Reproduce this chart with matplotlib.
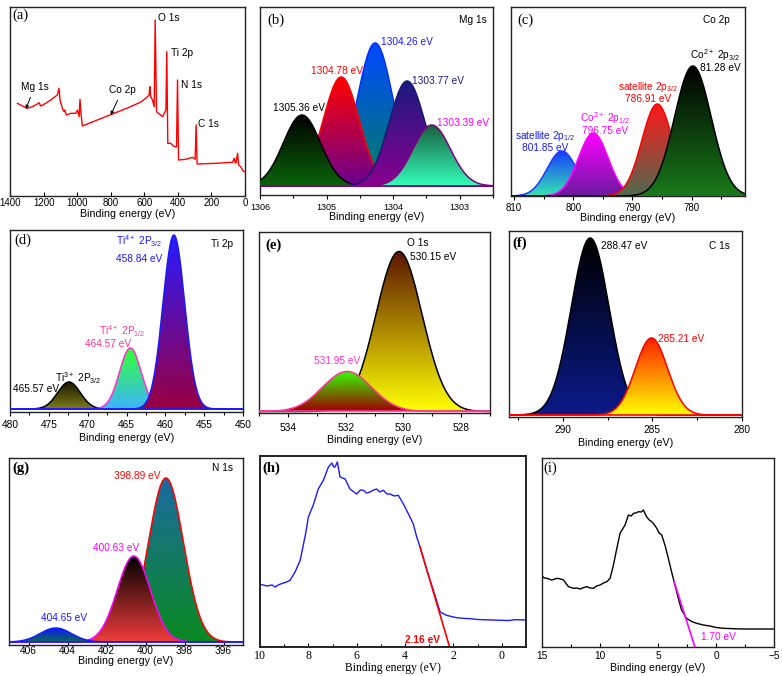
import numpy as np
import matplotlib
matplotlib.use("Agg")
import matplotlib.pyplot as plt
from matplotlib.patches import Polygon
from matplotlib.colors import LinearSegmentedColormap
from matplotlib.ticker import MultipleLocator

plt.rcParams['font.family'] = 'Liberation Sans'
SERIF = 'Liberation Serif'

# ── (a) survey spectrum ───────────────────────────────────────────────────────
survey_be = [1356, 1326, 1297, 1267, 1237, 1227, 1217, 1187, 1157, 1132, 1118, 1108,
             1102, 1088, 1078, 1074, 1064, 1038, 1008, 998, 988, 983, 977, 969, 880,
             790, 700, 620, 591, 571, 567, 562, 551, 541, 535, 527, 491, 481, 471,
             466, 460, 442, 422, 408, 402, 396, 352, 313, 297, 291, 285, 173, 74,
             64, 58, 54, 44, 38, 25, 15, 5]
survey_int = [92.7, 90, 87.7, 89.3, 92, 93.3, 90, 92.7, 96, 99.3, 101, 107.7,
              96, 87.7, 84.3, 86, 81, 82.7, 82.7, 86, 79.3, 96.7, 82.7, 70, 76,
              82, 88, 94, 97.7, 101, 109.3, 99.3, 96, 89.3, 176, 84.3, 79.3, 82.7, 86,
              144.3, 52.7, 52.7, 49.3, 49.3, 116, 36, 36.7, 38.7, 36.7, 71, 32, 32.7, 33.7,
              37.7, 33, 33, 42.7, 31, 29.3, 26, 24.3]

# ── fitted peaks: centre (eV), height (a.u.), sigma (eV) ─────────────────────
mg_center = [1304.27, 1304.78, 1305.37, 1303.79, 1303.42]
mg_height = [143, 109, 71, 105, 61]
mg_sigma  = [0.27, 0.27, 0.28, 0.27, 0.28]

co_center = [801.9, 796.6, 785.8, 779.8]
co_height = [45, 63, 92, 130]
co_sigma  = [2.5, 2.5, 2.6, 3.1]

ti_center = [472.4, 464.5, 458.9]
ti_height = [27, 61, 174]
ti_sigma  = [1.45, 1.4, 1.4]

o_center = [530.15, 531.95]
o_height = [160, 40]
o_sigma  = [0.8, 0.85]

c_center = [288.47, 285.05]
c_height = [177, 77]
c_sigma  = [1.06, 0.9]

n_center = [398.95, 400.6, 404.6]
n_height = [164, 86, 14]
n_sigma  = [0.9, 0.85, 0.8]

# ── (h), (i) valence band spectra ────────────────────────────────────────────
vb_h_be = [10.0, 9.7, 9.5, 9.38, 9.2, 9.03, 8.9, 8.76, 8.55, 8.34, 8.2, 8.1, 8.0, 7.8,
           7.59, 7.38, 7.17, 7.03, 6.95, 6.9, 6.8, 6.69, 6.48, 6.28, 6.0, 5.85, 5.72,
           5.6, 5.45, 5.3, 5.17, 5.05, 4.9, 4.75, 4.62, 4.45, 4.28, 4.07, 3.86, 3.66,
           3.52, 3.38, 3.1, 2.83, 2.55, 2.4, 2.28, 2.0, 1.86, 1.5, 1.31, 1.0, 0.76,
           0.4, 0.07, -0.3, -0.55, -1.0]
vb_h_int = [62.7, 61, 62, 60, 62.5, 64, 65, 66.7, 75, 86.7, 103, 115, 130, 141.7,
            158, 166.7, 180, 184, 180, 180, 185, 170, 168, 158, 153, 157, 156.7,
            154, 155, 157, 158, 155, 156.7, 153, 153, 151, 151.7, 143, 133, 123,
            110, 100, 76.7, 56.7, 35, 33, 31.7, 30, 29.3, 28.5, 28.3, 27.5, 27.3,
            27, 26.7, 26.5, 27.3, 27]
vb_h_fit_be = [3.38, 2.16]
vb_h_fit_int = [100, 0]

vb_i_be = [15, 14.8, 14.57, 14.3, 14.14, 13.9, 13.71, 13.4, 13.14, 12.9, 12.71, 12.5,
           12.28, 12.0, 11.7, 11.4, 11.13, 10.85, 10.56, 10.3, 9.99, 9.7, 9.41, 9.13,
           8.84, 8.55, 8.27, 8.05, 7.84, 7.55, 7.3, 7.12, 6.9, 6.69, 6.45, 6.26, 5.97,
           5.75, 5.54, 5.3, 5.11, 4.9, 4.68, 4.4, 4.11, 3.83, 3.54, 3.25, 2.97, 2.54,
           2.1, 1.68, 1.1, 0.53, 0, -0.62, -1.5, -2.34, -3.5, -5]
vb_i_int = [71, 69, 68.7, 67.5, 67, 68, 68.7, 68, 67, 63, 60.3, 59.5,
            58.7, 59, 58, 59.5, 60.3, 59, 58.7, 61, 62, 64, 65.3, 68.7,
            82, 98.7, 113.7, 118, 122, 132, 131, 133.7, 134, 135.3, 135, 137, 130,
            127, 125.3, 122, 118.7, 114, 112, 102, 88.7, 75.3, 62, 48.7, 37, 28.7,
            25.5, 23.7, 22, 21, 19.5, 18.7, 18.3, 18, 18, 18]
vb_i_fit_be = [3.6, 1.82]
vb_i_fit_int = [65, 0]

W, H = 782, 676
fig = plt.figure(figsize=(W / 100, H / 100), dpi=100)


def add_ax(x0, y0, x1, y1):
    return fig.add_axes([x0 / W, 1 - y1 / H, (x1 - x0) / W, (y1 - y0) / H])


def style(ax, xlim, ylim, major, minor=None, tdir='out', pad=2, lsize=7,
          labsize=7.7, labpad=1.0, serif=False, lw=1.0):
    ax.set_xlim(*xlim); ax.set_ylim(*ylim)
    ax.xaxis.set_major_locator(MultipleLocator(major))
    if minor:
        ax.xaxis.set_minor_locator(MultipleLocator(minor))
    ax.set_yticks([])
    ax.tick_params(axis='x', which='both', direction=tdir, pad=pad, labelsize=lsize)
    ax.tick_params(axis='x', which='major', length=3, width=0.8)
    ax.tick_params(axis='x', which='minor', length=2, width=0.8)
    kw = dict(fontsize=labsize, labelpad=labpad)
    if serif:
        kw['family'] = SERIF
        for t in ax.get_xticklabels():
            t.set_family(SERIF)
    ax.set_xlabel('Binding energy (eV)', **kw)
    for sp in ax.spines.values():
        sp.set_linewidth(lw)
        sp.set_color('#222222')


def panel_label(ax, s, x, y, bold=False, size=10.5):
    ax.text(x, y, s, transform=ax.transAxes, family=SERIF, fontsize=size,
            fontweight='bold' if bold else 'normal', va='center', ha='left')


def gauss(x, c, h, s):
    return h * np.exp(-0.5 * ((x - c) / s) ** 2)


def grad_peak(ax, x, y, top, bot, edge, z, lw=1.1):
    verts = np.vstack([np.column_stack([x, y]), [[x[-1], 0], [x[0], 0]]])
    poly = Polygon(verts, closed=True, fc='none', ec='none')
    ax.add_patch(poly)
    cmap = LinearSegmentedColormap.from_list('g', [bot, top])
    im = ax.imshow(np.linspace(0, 1, 256).reshape(-1, 1), cmap=cmap, origin='lower',
                   aspect='auto', extent=[x.min(), x.max(), 0, y.max()], zorder=z,
                   interpolation='bilinear')
    im.set_clip_path(poly)
    ax.plot(x, y, color=edge, lw=lw, zorder=z + 0.5)


def peaks(ax, xlim, centers, heights, sigmas, tops, bots, edges):
    x = np.linspace(min(xlim), max(xlim), 800)
    for i, (c, h, s) in enumerate(zip(centers, heights, sigmas)):
        grad_peak(ax, x, gauss(x, c, h, s), tops[i], bots[i], edges[i], z=2 + i)
    return x


sub = lambda s: r'$\mathregular{' + s + '}$'
fs = 7.3

# ── (a) ───────────────────────────────────────────────────────────────────────
ax = add_ax(10, 7, 245, 196)
ax.plot(survey_be, survey_int, color='#ff0000', lw=1.0)
style(ax, (1400, 0), (0, 189), 200, tdir='in', pad=1.5, labpad=0.5)
ax.text(517, 178, 'O 1s', fontsize=fs, va='center')
ax.text(439, 143, 'Ti 2p', fontsize=fs, va='center')
ax.text(380, 111, 'N 1s', fontsize=fs, va='center')
ax.text(280, 72, 'C 1s', fontsize=fs, va='center')
ax.annotate('Mg 1s', xy=(1306, 87), xytext=(1336, 109), fontsize=fs, va='center',
            arrowprops=dict(arrowstyle='-|>', lw=0.7, color='black', mutation_scale=5,
                            shrinkA=2, shrinkB=0))
ax.annotate('Co 2p', xy=(800, 81), xytext=(810, 106), fontsize=fs, va='center',
            arrowprops=dict(arrowstyle='-|>', lw=0.7, color='black', mutation_scale=5,
                            shrinkA=2, shrinkB=0))
panel_label(ax, '(a)', 0.008, 0.955)

# ── (b) Mg 1s ─────────────────────────────────────────────────────────────────
ax = add_ax(260, 7, 493, 195)
xlim = (1306, 1302.5)
peaks(ax, xlim, mg_center, mg_height, mg_sigma,
      ['#0048ff', '#ff0000', '#000000', '#1a1a80', '#1a6040'],
      ['#008060', '#6a0090', '#0a640a', '#8a0090', '#33ffbb'],
      ['#0030ff', '#ff0000', '#000000', '#1a1a70', '#800080'])
ax.axhline(0, color='#800080', lw=1.2, zorder=20)
style(ax, xlim, (-9, 179), 1, 0.5, pad=3, lsize=6.5, labpad=0)
ax.text(1304.18, 144, '1304.26 eV', color='#1a1aff', fontsize=fs, va='center')
ax.text(1305.24, 115, '1304.78 eV', color='#ff0000', fontsize=fs, va='center')
ax.text(1303.72, 105, '1303.77 eV', color='#1a1a80', fontsize=fs, va='center')
ax.text(1305.8, 78, '1305.36 eV', color='black', fontsize=fs, va='center')
ax.text(1303.34, 63, '1303.39 eV', color='#ff00ff', fontsize=fs, va='center')
ax.text(0.974, 0.93, 'Mg 1s', transform=ax.transAxes, fontsize=fs, ha='right', va='center')
panel_label(ax, '(b)', 0.03, 0.93)

# ── (c) Co 2p ─────────────────────────────────────────────────────────────────
ax = add_ax(511, 7, 745, 196)
xlim = (810.5, 771)
peaks(ax, xlim, co_center, co_height, co_sigma,
      ['#1a3cff', '#ff00ff', '#ff1a1a', '#000000'],
      ['#33e6b0', '#6a1aa0', '#506a50', '#1a7a1a'],
      ['#1a3cff', '#ff00ff', '#ff0000', '#000000'])
style(ax, xlim, (0, 189), 10, 5, pad=2, labpad=0)
ax.text(804.8, 55, 'satellite 2p' + sub('_{1/2}') + '\n801.85 eV', color='#1a1aff',
        fontsize=fs, ha='center', va='center', linespacing=1.0)
ax.text(794.6, 73, 'Co' + sub('^{2+}') + ' 2p' + sub('_{1/2}') + '\n796.75 eV',
        color='#ff00ff', fontsize=fs, ha='center', va='center', linespacing=1.0)
ax.text(787.4, 104, 'satellite 2p' + sub('_{3/2}') + '\n786.91 eV', color='#ff0000',
        fontsize=fs, ha='center', va='center', linespacing=1.0)
ax.text(771.8, 136, 'Co' + sub('^{2+}') + ' 2p' + sub('_{3/2}') + '\n81.28 eV',
        color='black', fontsize=fs, ha='right', va='center', linespacing=1.0,
        multialignment='right')
ax.text(0.936, 0.93, 'Co 2p', transform=ax.transAxes, fontsize=fs, ha='right', va='center')
panel_label(ax, '(c)', 0.026, 0.93)

# ── (d) Ti 2p ─────────────────────────────────────────────────────────────────
ax = add_ax(10, 230, 243, 412)
xlim = (480, 450)
peaks(ax, xlim, ti_center, ti_height, ti_sigma,
      ['#1a1a00', '#33ff33', '#2a1aff'],
      ['#807a1a', '#3cb4ff', '#9a0040'],
      ['#000000', '#ff33cc', '#1a1aff'])
ax.axhline(0, color='#1a1aff', lw=1.2, zorder=20)
style(ax, xlim, (-3, 179), 5, 2.5, pad=3, lsize=7.3, labpad=2)
ax.text(466.4, 168, 'Ti' + sub('^{4+}') + ' 2P' + sub('_{3/2}'), color='#1a1aff',
        fontsize=fs, va='center')
ax.text(466.4, 150, '458.84 eV', color='#1a1aff', fontsize=fs, va='center')
ax.text(468.5, 78, 'Ti' + sub('^{4+}') + ' 2P' + sub('_{1/2}'), color='#ff3399',
        fontsize=fs, va='center')
ax.text(470.3, 65, '464.57 eV', color='#ff3399', fontsize=fs, va='center')
ax.text(474.2, 31, 'Ti' + sub('^{3+}') + ' 2P' + sub('_{3/2}'), color='black',
        fontsize=fs, va='center')
ax.text(479.6, 20, '465.57 eV', color='black', fontsize=fs, va='center')
ax.text(0.957, 0.923, 'Ti 2p', transform=ax.transAxes, fontsize=fs, ha='right', va='center')
panel_label(ax, '(d)', 0.02, 0.945)

# ── (e) O 1s ──────────────────────────────────────────────────────────────────
ax = add_ax(259, 232, 490, 413)
xlim = (535, 527)
peaks(ax, xlim, o_center, o_height, o_sigma,
      ['#5a1500', '#33ff00'], ['#ffff00', '#a00000'], ['#000000', '#ff3399'])
ax.axhline(0, color='#ff3399', lw=1.2, zorder=20)
style(ax, xlim, (-1.5, 179.5), 2, 1, pad=4, lsize=7.3, labpad=2)
ax.text(529.86, 168, 'O 1s', fontsize=fs, va='center')
ax.text(529.76, 154, '530.15 eV', fontsize=fs, va='center')
ax.text(533.08, 50, '531.95 eV', color='#ff33cc', fontsize=fs, va='center')
panel_label(ax, '(e)', 0.026, 0.928, bold=True)

# ── (f) C 1s ──────────────────────────────────────────────────────────────────
ax = add_ax(509, 231, 742, 417)
xlim = (293, 280)
peaks(ax, xlim, c_center, c_height, c_sigma,
      ['#000000', '#ff2000'], ['#0a1a8a', '#ffff00'], ['#000000', '#ff0000'])
ax.axhline(0, color='#ff0000', lw=1.2, zorder=20)
style(ax, xlim, (-2, 184), 5, 2.5, pad=3, lsize=7.3, labpad=2)
ax.text(287.86, 169, '288.47 eV', fontsize=fs, va='center')
ax.text(284.67, 76, '285.21 eV', color='#ff0000', fontsize=fs, va='center')
ax.text(0.948, 0.92, 'C 1s', transform=ax.transAxes, fontsize=fs, ha='right', va='center')
panel_label(ax, '(f)', 0.013, 0.935, bold=True)

# ── (g) N 1s ──────────────────────────────────────────────────────────────────
ax = add_ax(9, 458, 243, 645)
xlim = (407, 395)
peaks(ax, xlim, n_center, n_height, n_sigma,
      ['#1a6aa0', '#000000', '#0a1aff'],
      ['#0a8a20', '#f03c3c', '#0a6a50'],
      ['#ff0000', '#ff00ff', '#1a1aff'])
ax.axhline(0, color='#1a1aff', lw=1.2, zorder=20)
style(ax, xlim, (-3, 184), 2, tdir='in', pad=0.5, lsize=7.3, labpad=0)
ax.text(401.64, 166, '398.89 eV', color='#ff0000', fontsize=fs, va='center')
ax.text(402.67, 94, '400.63 eV', color='#ff00ff', fontsize=fs, va='center')
ax.text(405.38, 24, '404.65 eV', color='#1a1aff', fontsize=fs, va='center')
ax.text(0.957, 0.947, 'N 1s', transform=ax.transAxes, fontsize=fs, ha='right', va='center')
panel_label(ax, '(g)', 0.013, 0.947, bold=True)

# ── (h) valence band ──────────────────────────────────────────────────────────
ax = add_ax(260, 456, 526, 647)
ax.plot(vb_h_be, vb_h_int, color='#1a1aff', lw=1.0)
ax.plot(vb_h_fit_be, vb_h_fit_int, color='#ff0000', lw=1.2)
style(ax, (10, -1), (0, 191), 2, 1, tdir='in', pad=2, lsize=8.6, labsize=8.4,
      labpad=0.5, serif=True, lw=1.4)
ax.text(2.56, 7, '2.16 eV', color='#ff0000', fontsize=7.3, fontweight='bold',
        ha='right', va='center')
panel_label(ax, '(h)', 0.008, 0.937, bold=True)

# ── (i) valence band ──────────────────────────────────────────────────────────
ax = add_ax(542, 458, 774, 647)
ax.plot(vb_i_be, vb_i_int, color='black', lw=1.0)
ax.plot(vb_i_fit_be, vb_i_fit_int, color='#ff00ff', lw=1.2)
style(ax, (15, -5), (0, 189), 5, 2.5, tdir='in', pad=3, lsize=7.3, labpad=1.5)
ax.text(1.33, 10, '1.70 eV', color='#ff00ff', fontsize=fs, va='center')
panel_label(ax, '(i)', 0.004, 0.947)

fig.savefig('out.png', dpi=100)
